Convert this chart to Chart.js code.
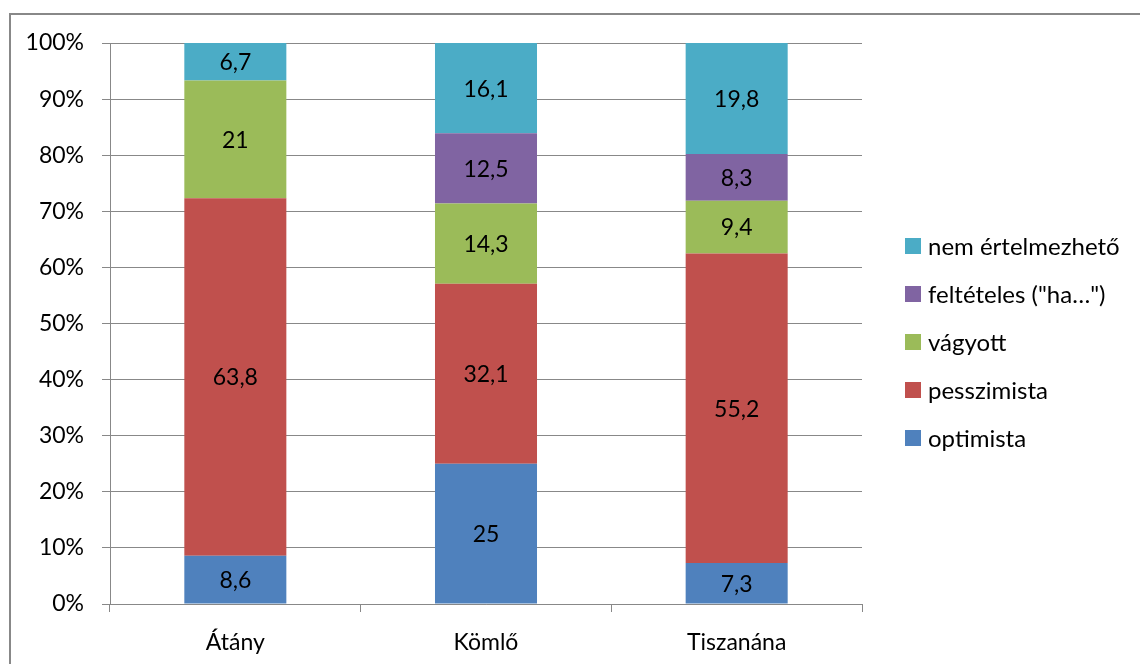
<!DOCTYPE html>
<html>
<head>
<meta charset="utf-8">
<script src="https://cdn.jsdelivr.net/npm/chart.js@4/dist/chart.umd.min.js"></script>
<style>
  html, body { margin:0; padding:0; background:#fff; overflow:hidden; }
  #wrap { position:relative; width:1140px; height:664px; }
  #frame { position:absolute; left:9px; top:13px; width:1200px; height:700px; border:2px solid #888; box-sizing:border-box; pointer-events:none; }
  canvas { position:absolute; left:0; top:0; }
</style>
</head>
<body>
<div id="wrap">
  <canvas id="c" width="1140" height="664"></canvas>
  <div id="frame"></div>
</div>
<script>
const categories = ["Átány", "Kömlő", "Tiszanána"];
const seriesNames = ["optimista", "pesszimista", "vágyott", "feltételes (\"ha…\")", "nem értelmezhető"];
const optimista = [8.6, 25, 7.3];
const pesszimista = [63.8, 32.1, 55.2];
const vagyott = [21, 14.3, 9.4];
const felteteles = [0, 12.5, 8.3];
const nemErtelmezheto = [6.7, 16.1, 19.8];
const yTickLabels = ["0%","10%","20%","30%","40%","50%","60%","70%","80%","90%","100%"];

const colors = ["#4F81BD", "#C0504D", "#9BBB59", "#8064A2", "#4BACC6"];
const rawSeries = [optimista, pesszimista, vagyott, felteteles, nemErtelmezheto];
const totals = categories.map((_, i) => rawSeries.reduce((s, arr) => s + arr[i], 0));

const FONT = "Lato";
const FS = 23;
const LFS = 24;

const datasets = rawSeries.map((arr, k) => ({
  label: seriesNames[k],
  raw: arr,
  data: arr.map((v, i) => v / totals[i] * 100),
  backgroundColor: colors[k],
  borderWidth: 0,
  categoryPercentage: 1,
  barPercentage: 0.407
}));

const labelPlugin = {
  id: 'labels',
  afterDatasetsDraw(chart) {
    const ctx = chart.ctx;
    ctx.save();
    ctx.font = FS + "px " + FONT;
    ctx.fillStyle = "#000";
    ctx.textAlign = "center";
    ctx.textBaseline = "middle";
    chart.data.datasets.forEach((ds, k) => {
      const meta = chart.getDatasetMeta(k);
      meta.data.forEach((bar, i) => {
        const v = ds.raw[i];
        if (!v) return;
        const y = (bar.y + bar.base) / 2;
        ctx.fillText(String(v).replace('.', ','), bar.x, y + 1);
      });
    });
    ctx.restore();
  },
  afterDraw(chart) {
    const ctx = chart.ctx;
    ctx.save();
    ctx.font = LFS + "px " + FONT;
    ctx.textAlign = "left";
    ctx.textBaseline = "middle";
    const n = chart.data.datasets.length;
    for (let j = 0; j < n; j++) {
      const k = n - 1 - j;
      const ds = chart.data.datasets[k];
      const cy = 246 + j * 48;
      ctx.fillStyle = ds.backgroundColor;
      ctx.fillRect(905, cy - 8, 16, 16);
      ctx.fillStyle = "#000";
      ctx.fillText(ds.label, 928, cy + 1);
    }
    ctx.restore();
  }
};

new Chart(document.getElementById('c'), {
  type: 'bar',
  data: { labels: categories, datasets },
  options: {
    responsive: false,
    animation: false,
    devicePixelRatio: 1,
    layout: { padding: { top: 43, right: 278, left: 0, bottom: 0 } },
    plugins: { legend: { display: false }, tooltip: { enabled: false } },
    scales: {
      x: {
        stacked: true,
        grid: { offset: true, drawOnChartArea: false, drawTicks: true, tickLength: 8, color: "#888", lineWidth: 1 },
        border: { display: true, color: "#888", width: 1 },
        ticks: { color: "#000", font: { family: FONT, size: FS }, padding: 17 },
        afterFit(scale) { scale.height = 60; }
      },
      y: {
        stacked: true,
        min: 0, max: 100,
        grid: { color: "#888", lineWidth: 1, tickLength: 8 },
        border: { display: true, color: "#888", width: 1 },
        ticks: {
          stepSize: 10,
          color: "#000",
          font: { family: FONT, size: FS },
          padding: 18,
          callback: (v) => yTickLabels[Math.round(v / 10)]
        },
        afterFit(scale) { scale.width = 110; }
      }
    }
  },
  plugins: [labelPlugin]
});
</script>
</body>
</html>
